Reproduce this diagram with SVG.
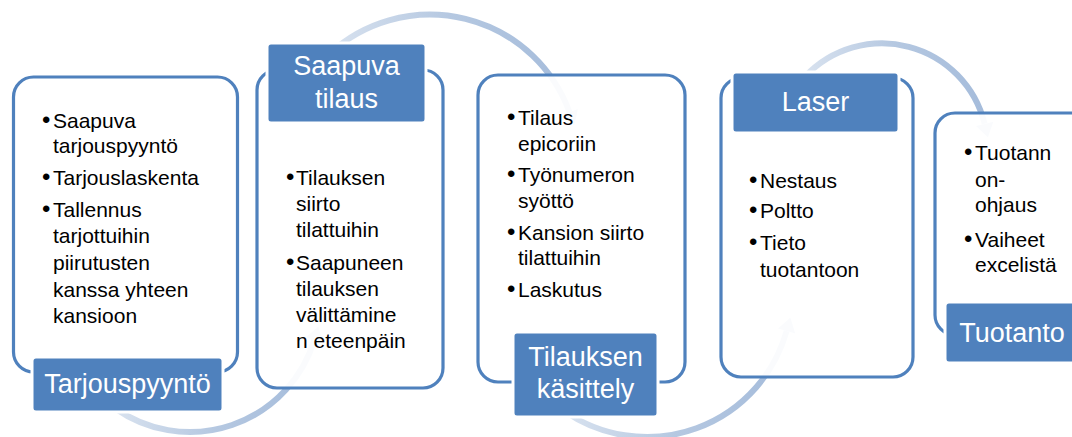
<svg xmlns="http://www.w3.org/2000/svg" width="1072" height="437" viewBox="0 0 1072 437">
<style>
.box{fill:#ffffff;fill-opacity:0.94;stroke:#4F81BD;stroke-width:3.2}
.lbl{fill:#4F81BD;stroke:#ffffff;stroke-width:3}
.lt{font-family:"Liberation Sans",Arial,sans-serif;font-size:27px;fill:#ffffff;text-anchor:middle}
.bt{font-family:"Liberation Sans",Arial,sans-serif;font-size:21px;fill:#000000}
.bu{font-size:24px}
.arc{fill:none;stroke:url(#ag);stroke-width:6;marker-end:url(#ah)}
</style>
<defs>
<linearGradient id="ag" x1="0" y1="0" x2="1" y2="0">
<stop offset="0" stop-color="#D8E2EF"/>
<stop offset="0.5" stop-color="#B5C8E1"/>
<stop offset="1" stop-color="#A5BCDB"/>
</linearGradient>
<marker id="ah" markerUnits="userSpaceOnUse" markerWidth="16" markerHeight="18" viewBox="0 0 14 18" refX="0" refY="9" orient="auto">
<path d="M0,0 L14,9 L0,18 z" fill="#A5BCDB"/>
</marker>
</defs>
<rect width="1072" height="437" fill="#ffffff"/>
<g id="connectors">
<path class="arc" d="M115,408.2 A130,130 0 0 0 314.3,340"/>
<path class="arc" d="M330,53.2 A148.5,148.5 0 0 1 569.5,112.2"/>
<path class="arc" d="M565,411.6 A145,145 0 0 0 786.6,331"/>
<path class="arc" d="M805,76.7 A105.6,105.6 0 0 1 984.6,123.8"/>
</g>
<g id="node-tarjouspyynto">
<rect class="box" x="13.5" y="77" width="224" height="295" rx="20"/>
<text class="bt"><tspan class="bu" x="42" y="128">•</tspan><tspan x="53" y="128">Saapuva</tspan></text>
<text class="bt" x="53" y="153">tarjouspyyntö</text>
<text class="bt"><tspan class="bu" x="42" y="185">•</tspan><tspan x="53" y="185">Tarjouslaskenta</tspan></text>
<text class="bt"><tspan class="bu" x="42" y="217">•</tspan><tspan x="53" y="217">Tallennus</tspan></text>
<text class="bt" x="53" y="243">tarjottuihin</text>
<text class="bt" x="53" y="270">piirutusten</text>
<text class="bt" x="53" y="297">kanssa yhteen</text>
<text class="bt" x="53" y="323">kansioon</text>
<rect class="lbl" x="32" y="357" width="191" height="55" rx="4"/>
<text class="lt" x="127.5" y="393">Tarjouspyyntö</text>
</g>
<g id="node-saapuva-tilaus">
<rect class="box" x="257" y="70" width="186" height="318" rx="20"/>
<rect class="lbl" x="267" y="43" width="159" height="80" rx="4"/>
<text class="lt" x="346.5" y="75">Saapuva</text>
<text class="lt" x="346.5" y="108">tilaus</text>
<text class="bt"><tspan class="bu" x="286" y="185">•</tspan><tspan x="296" y="185">Tilauksen</tspan></text>
<text class="bt" x="296" y="211">siirto</text>
<text class="bt" x="296" y="237">tilattuihin</text>
<text class="bt"><tspan class="bu" x="286" y="270">•</tspan><tspan x="296" y="270">Saapuneen</tspan></text>
<text class="bt" x="296" y="296">tilauksen</text>
<text class="bt" x="296" y="322">välittämine</text>
<text class="bt" x="296" y="348">n eteenpäin</text>
</g>
<g id="node-tilauksen-kasittely">
<rect class="box" x="478" y="75" width="207" height="307" rx="20"/>
<text class="bt"><tspan class="bu" x="507" y="125">•</tspan><tspan x="518" y="125">Tilaus</tspan></text>
<text class="bt" x="518" y="151">epicoriin</text>
<text class="bt"><tspan class="bu" x="507" y="182">•</tspan><tspan x="518" y="182">Työnumeron</tspan></text>
<text class="bt" x="518" y="208">syöttö</text>
<text class="bt"><tspan class="bu" x="507" y="240">•</tspan><tspan x="518" y="240">Kansion siirto</tspan></text>
<text class="bt" x="518" y="265">tilattuihin</text>
<text class="bt"><tspan class="bu" x="507" y="297">•</tspan><tspan x="518" y="297">Laskutus</tspan></text>
<rect class="lbl" x="513" y="332" width="145" height="85" rx="4"/>
<text class="lt" x="585.5" y="366">Tilauksen</text>
<text class="lt" x="585.5" y="398">käsittely</text>
</g>
<g id="node-laser">
<rect class="box" x="721" y="78" width="192" height="299" rx="20"/>
<rect class="lbl" x="732" y="72" width="167" height="61" rx="4"/>
<text class="lt" x="815.5" y="111">Laser</text>
<text class="bt"><tspan class="bu" x="749" y="188">•</tspan><tspan x="760" y="188">Nestaus</tspan></text>
<text class="bt"><tspan class="bu" x="749" y="218">•</tspan><tspan x="760" y="218">Poltto</tspan></text>
<text class="bt"><tspan class="bu" x="749" y="250">•</tspan><tspan x="760" y="250">Tieto</tspan></text>
<text class="bt" x="760" y="277">tuotantoon</text>
</g>
<g id="node-tuotanto">
<rect class="box" x="935" y="113" width="200" height="222" rx="20"/>
<text class="bt"><tspan class="bu" x="964" y="160">•</tspan><tspan x="975" y="160">Tuotann</tspan></text>
<text class="bt" x="975" y="187">on-</text>
<text class="bt" x="975" y="212">ohjaus</text>
<text class="bt"><tspan class="bu" x="964" y="247">•</tspan><tspan x="975" y="247">Vaiheet</tspan></text>
<text class="bt" x="975" y="272">excelistä</text>
<rect class="lbl" x="945" y="302" width="134" height="61" rx="4"/>
<text class="lt" x="1012" y="342">Tuotanto</text>
</g>
</svg>
